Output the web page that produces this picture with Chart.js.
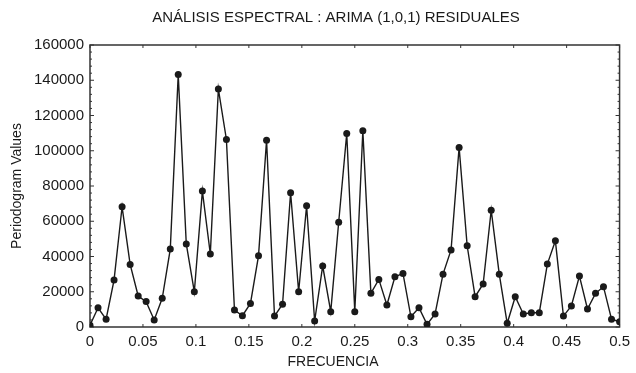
<!DOCTYPE html>
<html>
<head>
<meta charset="utf-8">
<script src="https://cdn.jsdelivr.net/npm/chart.js@4"></script>
<style>
  html, body { margin: 0; padding: 0; background: #fff; }
  canvas { display: block; }
</style>
</head>
<body>
<canvas id="chart" width="636" height="373"></canvas>
<script>
// frecuencias k/132, k = 0..66
const frecuencia = [
  0, 0.0076, 0.0152, 0.0227, 0.0303, 0.0379, 0.0455, 0.0530, 0.0606, 0.0682,
  0.0758, 0.0833, 0.0909, 0.0985, 0.1061, 0.1136, 0.1212, 0.1288, 0.1364, 0.1439,
  0.1515, 0.1591, 0.1667, 0.1742, 0.1818, 0.1894, 0.1970, 0.2045, 0.2121, 0.2197,
  0.2273, 0.2348, 0.2424, 0.2500, 0.2576, 0.2652, 0.2727, 0.2803, 0.2879, 0.2955,
  0.3030, 0.3106, 0.3182, 0.3258, 0.3333, 0.3409, 0.3485, 0.3561, 0.3636, 0.3712,
  0.3788, 0.3864, 0.3939, 0.4015, 0.4091, 0.4167, 0.4242, 0.4318, 0.4394, 0.4470,
  0.4545, 0.4621, 0.4697, 0.4773, 0.4848, 0.4924, 0.5
]

const periodograma = [
  1000, 10900, 4400, 26600, 68200, 35500, 17600, 14400, 4000, 16300,
  44200, 143300, 47100, 20000, 77100, 41400, 135000, 106400, 9600, 6400,
  13400, 40400, 106000, 6200, 12900, 76200, 20000, 68800, 3400, 34600,
  8700, 59400, 109800, 8700, 111300, 19100, 27000, 12500, 28500, 30400,
  5800, 10900, 1500, 7400, 30000, 43700, 101900, 46100, 17200, 24400,
  66300, 30000, 2100, 17200, 7400, 8100, 8100, 35700, 48900, 6200,
  11900, 28900, 10200, 19100, 22900, 4400, 3000
]

const xTicks = [0, 0.05, 0.1, 0.15, 0.2, 0.25, 0.3, 0.35, 0.4, 0.45, 0.5]
const yTicks = [0, 20000, 40000, 60000, 80000, 100000, 120000, 140000, 160000]

const titulo = 'ANÁLISIS ESPECTRAL : ARIMA (1,0,1) RESIDUALES'
const tituloX = 'FRECUENCIA'
const tituloY = 'Periodogram Values'

const font = "'Liberation Sans', Arial, Helvetica, sans-serif"
const ink = '#1a1a1a'

// box round the plot, with small inward tick marks
const framePlugin = {
  id: 'frame',
  afterLayout(chart) {
    // the original centres its titles a bit left of the plot centre
    chart.boxes.forEach(b => {
      if (!b.options || b.options.text === undefined) return
      if (b.options.text === titulo) b.left = 49
      if (b.options.text === tituloX) b.left = 43
    })
  },
  beforeDatasetsDraw(chart) {
    const { ctx, chartArea: a, scales } = chart
    ctx.save()
    ctx.strokeStyle = '#333'
    ctx.lineWidth = 1.5
    ctx.strokeRect(a.left, a.top, a.right - a.left, a.bottom - a.top)
    ctx.lineWidth = 1
    ctx.beginPath()
    xTicks.forEach(v => {
      const x = scales.x.getPixelForValue(v)
      ctx.moveTo(x, a.bottom); ctx.lineTo(x, a.bottom - 3)
      ctx.moveTo(x, a.top); ctx.lineTo(x, a.top + 3)
    })
    for (let v = 0; v <= 160000; v += 4000) {
      const y = scales.y.getPixelForValue(v)
      const len = v % 20000 === 0 ? 4 : 2
      ctx.moveTo(a.left, y); ctx.lineTo(a.left + len, y)
      ctx.moveTo(a.right, y); ctx.lineTo(a.right - len, y)
    }
    ctx.stroke()
    ctx.restore()
  }
}

new Chart(document.getElementById('chart'), {
  type: 'line',
  data: {
    datasets: [{
      data: frecuencia.map((f, i) => ({ x: f, y: periodograma[i] })),
      borderColor: ink,
      borderWidth: 1.4,
      backgroundColor: ink,
      pointRadius: 3.5,
      pointBackgroundColor: ink,
      pointBorderWidth: 0,
      tension: 0
    }]
  },
  options: {
    responsive: false,
    animation: false,
    layout: { padding: { left: 0, right: 13, top: 0, bottom: 0 } },
    plugins: {
      legend: { display: false },
      tooltip: { enabled: false },
      title: {
        display: true,
        text: titulo,
        color: ink,
        font: { family: font, size: 15, weight: 'normal' },
        padding: { top: 9, bottom: 18 }
      },
      subtitle: {
        display: true,
        position: 'bottom',
        text: tituloX,
        color: ink,
        font: { family: font, size: 14, weight: 'normal' },
        padding: { top: 0, bottom: 2.5 }
      }
    },
    scales: {
      x: {
        type: 'linear',
        min: 0,
        max: 0.5,
        afterFit: s => { s.height = 26.7 },
        afterBuildTicks: s => { s.ticks = xTicks.map(v => ({ value: v })) },
        grid: { display: false, drawTicks: false },
        border: { display: false },
        ticks: {
          color: ink,
          padding: 6,
          maxRotation: 0,
          font: { family: font, size: 15 },
          callback: v => String(+v.toFixed(2))
        }
      },
      y: {
        min: 0,
        max: 160000,
        afterFit: s => { s.width = 90 },
        afterBuildTicks: s => { s.ticks = yTicks.map(v => ({ value: v })) },
        grid: { display: false, drawTicks: false },
        border: { display: false },
        ticks: {
          color: ink,
          padding: 6,
          font: { family: font, size: 15 },
          callback: v => String(v)
        },
        title: {
          display: true,
          text: tituloY,
          color: ink,
          font: { family: font, size: 14 },
          padding: { top: 9, bottom: 0 }
        }
      }
    }
  },
  plugins: [framePlugin]
})
</script>
</body>
</html>
